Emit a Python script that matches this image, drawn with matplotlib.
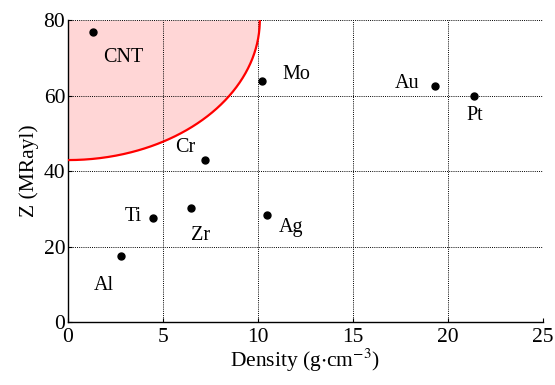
import numpy as np
import matplotlib
matplotlib.use("Agg")
import matplotlib.pyplot as plt

plt.rcParams['font.family'] = ['Liberation Serif', 'DejaVu Serif']
plt.rcParams['mathtext.fontset'] = 'stix'

# Material density (g/cm^3) and acoustic impedance (MRayl)
materials = ["CNT", "Mo", "Au", "Pt", "Cr", "Ti", "Zr", "Ag", "Al"]
density = [1.3, 10.2, 19.3, 21.4, 7.2, 4.5, 6.5, 10.5, 2.8]
impedance = [76.8, 63.8, 62.5, 60.0, 42.9, 27.5, 30.2, 28.3, 17.5]

# Label offsets (data units) per material
label_dx = [1.6, 1.1, -0.8, 0.0, -1.0, -0.6, 0.5, 0.6, -0.9]
label_dy = [-6.6, 1.7, 0.6, -5.3, 3.2, 0.5, -7.2, -3.2, -7.8]
label_ha = ["center", "left", "right", "center", "center", "right", "center", "left", "center"]

# Quarter-ellipse boundary of the low-density / high-impedance region
ellipse_center = (0.0, 80.0)
ellipse_axes = (10.1, 37.1)

x_ticks = [0, 5, 10, 15, 20, 25]
y_ticks = [0, 20, 40, 60, 80]

fig = plt.figure(figsize=(5.55, 3.85), dpi=100)
ax = fig.add_axes([0.1225, 0.1636, 0.8555, 0.7844])

t = np.linspace(0, np.pi / 2, 300)
ex = ellipse_center[0] + ellipse_axes[0] * np.sin(t)
ey = ellipse_center[1] - ellipse_axes[1] * np.cos(t)
ax.fill_between(ex, ey, 80, color="#ffd6d6", linewidth=0, zorder=1)
ax.plot(ex, ey, color="red", linewidth=1.6, zorder=3)

ax.plot(density, impedance, "o", color="black", markersize=5, zorder=4)
for name, x, y, dx, dy, ha in zip(materials, density, impedance, label_dx, label_dy, label_ha):
    ax.text(x + dx, y + dy, name, ha=ha, va="center", fontsize=14.5, zorder=5)

ax.set_xlim(0, 25)
ax.set_ylim(0, 80)
ax.set_xticks(x_ticks)
ax.set_yticks(y_ticks)
ax.grid(True, color="black", linestyle=(0, (1, 1.2)), linewidth=0.7, zorder=2)
ax.set_axisbelow(False)
for side in ["top", "right"]:
    ax.spines[side].set_visible(False)
for side in ["left", "bottom"]:
    ax.spines[side].set_linewidth(1.0)
ax.tick_params(direction="in", length=3, labelsize=15.5)
ax.tick_params(axis="x", pad=4)
ax.tick_params(axis="y", pad=2)

ax.set_xlabel(r"Density (g$\cdot$cm$^{-3}$)", fontsize=15.5, labelpad=0)
ax.set_ylabel("Z (MRayl)", fontsize=15.5, labelpad=3)

fig.savefig("out.png", dpi=100)
